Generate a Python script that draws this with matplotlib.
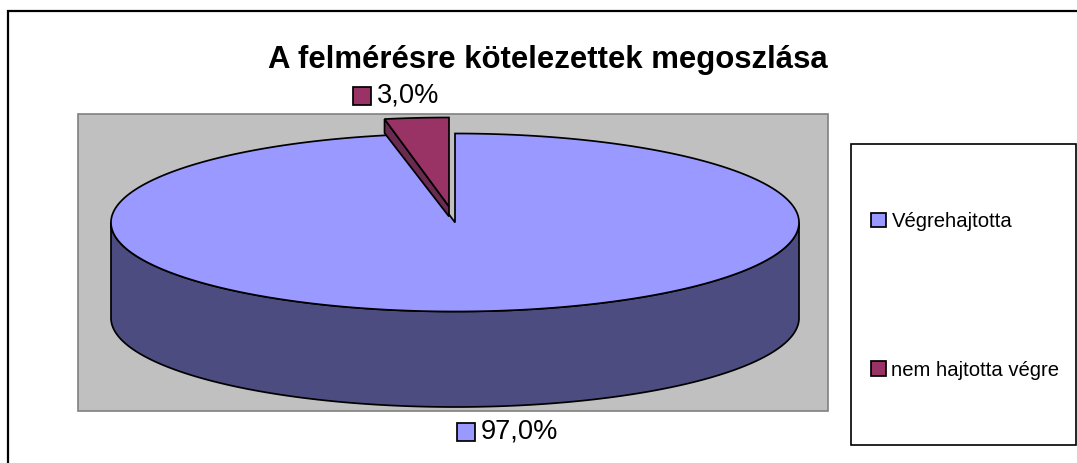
import numpy as np
import matplotlib
matplotlib.use("Agg")
import matplotlib.pyplot as plt
from matplotlib.patches import Rectangle, Polygon

plt.rcParams['font.family'] = ['Liberation Sans', 'DejaVu Sans']

title = "A felmérésre kötelezettek megoszlása"
categories = ["Végrehajtotta", "nem hajtotta végre"]
values = [97.0, 3.0]
labels = ["97,0%", "3,0%"]
top_colors = ["#9999FF", "#993366"]
side_colors = ["#4C4C80", "#6B2A4F"]

W, H = 1077, 463
fig = plt.figure(figsize=(W / 100, H / 100), dpi=100)
ax = fig.add_axes([0, 0, 1, 1])
ax.set_xlim(0, W)
ax.set_ylim(H, 0)
ax.axis("off")

# outer chart frame (cropped on the right and bottom)
ax.plot([7.5, 7.5, W], [H, 11, 11], color="black", lw=1.6, solid_joinstyle="miter")

# plot area
ax.add_patch(Rectangle((78, 114), 750, 297, fc="#C0C0C0", ec="#808080", lw=1.2))

cx, cy, rx, ry, depth = 455, 222.5, 344, 89, 95.5
EXPLODE = (-6, -16)
SLICE_DEPTH = 14
LW = 1.25


def ell(theta):
    return cx + rx * np.sin(theta), cy - ry * np.cos(theta)


end_main = 2 * np.pi * values[0] / sum(values)

# main slice: side wall
t = np.linspace(np.pi / 2, 3 * np.pi / 2, 300)
x, y = ell(t)
side = np.r_[np.c_[x, y], np.c_[x, y + depth][::-1]]
ax.add_patch(Polygon(side, closed=True, fc=side_colors[0], ec="black", lw=LW, zorder=2))

# main slice: top face
t = np.linspace(0, end_main, 600)
x, y = ell(t)
top = np.r_[[[cx, cy]], np.c_[x, y]]
ax.add_patch(Polygon(top, closed=True, fc=top_colors[0], ec="black", lw=LW, zorder=3))

# exploded slice
t = np.linspace(end_main, 2 * np.pi, 40)
x, y = ell(t)
x = x + EXPLODE[0]
y = y + EXPLODE[1]
tip = (cx + EXPLODE[0], cy + EXPLODE[1])
wall = [(x[0], y[0]), (x[0], y[0] + SLICE_DEPTH), (tip[0], tip[1] + SLICE_DEPTH - 4), tip]
ax.add_patch(Polygon(wall, closed=True, fc=side_colors[1], ec="black", lw=LW, zorder=4))
ax.add_patch(Polygon(np.r_[[tip], np.c_[x, y]], closed=True, fc=top_colors[1], ec="black", lw=LW, zorder=5))

# title
ax.text(548, 60, title, ha="center", va="center", fontsize=22.4, fontweight="bold", color="black")

# data labels with colour keys
label_pos = [(456.5, 423), (352.5, 86.5)]
for lab, col, (lx, ly) in zip(labels, top_colors, label_pos):
    ax.add_patch(Rectangle((lx, ly), 18, 18, fc=col, ec="black", lw=LW))
    ax.text(lx + 24, ly + 8.5, lab, ha="left", va="center", fontsize=19.6, color="black")

# legend
ax.add_patch(Rectangle((850.5, 143.5), 225.5, 301, fc="white", ec="black", lw=1.2))
handles = [Rectangle((0, 0), 1, 1, fc=c, ec="black", lw=LW) for c in top_colors]
ax.legend(handles, categories, loc="upper left", bbox_to_anchor=(871 / W, 1 - 212 / H),
          frameon=False, fontsize=14.6, labelspacing=6.4, handlelength=0.74, handleheight=0.74,
          handletextpad=0.27, borderpad=0, borderaxespad=0)

fig.savefig("out.png", dpi=100)
